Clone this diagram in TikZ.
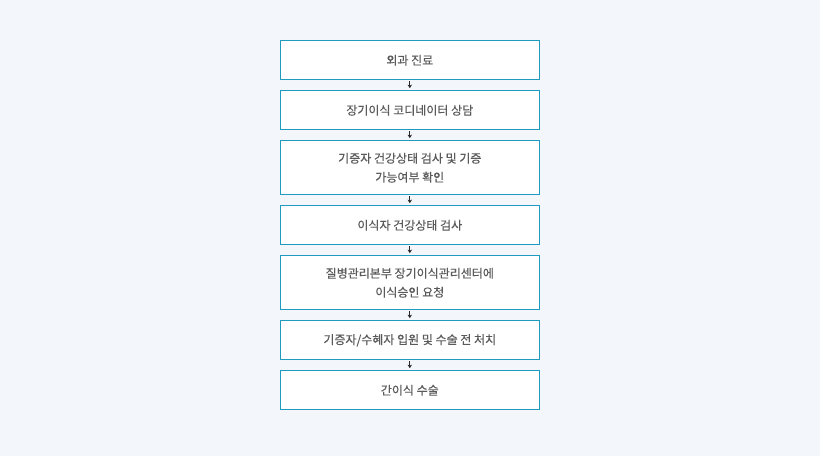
\documentclass[tikz,border=0pt]{standalone}
\usepackage{fontspec}
\setmainfont{Noto Sans CJK KR}
\newfontfamily\medfont{Noto Sans CJK KR}[FakeBold=0.35]
\usetikzlibrary{arrows.meta}
\definecolor{bg}{HTML}{F3F6FB}
\definecolor{bd}{HTML}{1E9BBE}
\definecolor{tx}{HTML}{5A5A5A}
\begin{document}
\begin{tikzpicture}[x=1pt,y=-1pt,
  stepbox/.style={draw=bd,line width=0.9pt,fill=white,minimum width=259pt,inner sep=0pt,
    font=\medfont\fontsize{12}{19}\selectfont,text=tx,align=center,anchor=north},
  flowarrow/.style={draw=black!85,line width=0.8pt,-{Stealth[length=3.5pt,width=4.5pt]},shorten <=1.2pt,shorten >=2.2pt}]
\fill[bg] (0,0) rectangle (820,456);
\useasboundingbox (0,0) rectangle (820,456);
\node[stepbox,minimum height=39pt] (b1) at (409.8,40.3) {외과 진료};
\node[stepbox,minimum height=39pt] (b2) at (409.8,90.3) {장기이식 코디네이터 상담};
\node[stepbox,minimum height=54pt] (b3) at (409.8,140.3) {기증자 건강상태 검사 및 기증\\가능여부 확인};
\node[stepbox,minimum height=39pt] (b4) at (409.8,205.3) {이식자 건강상태 검사};
\node[stepbox,minimum height=54pt] (b5) at (409.8,255.3) {질병관리본부 장기이식관리센터에\\이식승인 요청};
\node[stepbox,minimum height=39pt] (b6) at (409.8,320.3) {기증자/수혜자 입원 및 수술 전 처치};
\node[stepbox,minimum height=39pt] (b7) at (409.8,370.3) {간이식 수술};
\foreach \a/\b in {b1/b2,b2/b3,b3/b4,b4/b5,b5/b6,b6/b7}
  \draw[flowarrow] (\a.south) -- (\b.north);
\end{tikzpicture}
\end{document}
